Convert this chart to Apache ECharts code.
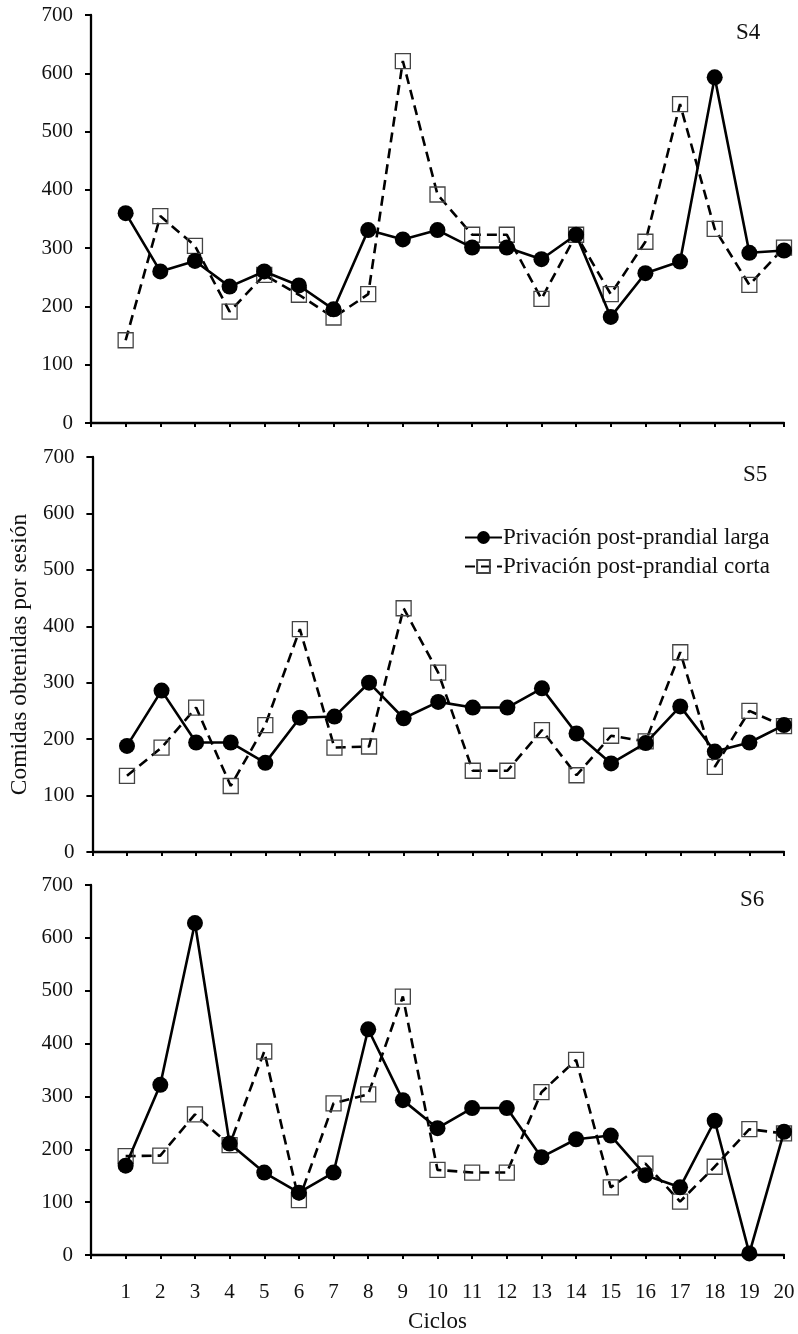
<!DOCTYPE html>
<html>
<head>
<meta charset="utf-8">
<script src="https://cdn.jsdelivr.net/npm/echarts@6/dist/echarts.min.js"></script>
<style>
html,body{margin:0;padding:0;background:#fff;}
#chart{width:798px;height:1334px;}
</style>
</head>
<body>
<div id="chart"></div>
<script>
const cycles = [1,2,3,4,5,6,7,8,9,10,11,12,13,14,15,16,17,18,19,20];
const yTicks = [0,100,200,300,400,500,600,700];
const panelLabels = ['S4','S5','S6'];
const seriesNames = ['Privación post-prandial larga','Privación post-prandial corta'];

const s4Larga = [360,260,278,234,260,236,195,331,315,331,301,301,281,323,182,257,277,593,292,296];
const s4Corta = [142,355,304,191,254,220,181,221,621,392,323,323,213,323,221,311,547,333,237,301];
const s5Larga = [188,286,194,194,158,238,240,300,237,266,256,256,290,210,157,193,258,178,194,225];
const s5Corta = [135,185,256,117,225,395,185,187,432,318,144,144,216,136,206,196,354,151,250,223];
const s6Larga = [169,322,628,211,156,118,156,427,293,240,278,278,185,219,226,151,128,254,3,233];
const s6Corta = [187,188,266,208,385,104,287,304,489,161,156,156,308,369,128,173,101,167,238,230];

const panels = [[s4Larga,s4Corta],[s5Larga,s5Corta],[s6Larga,s6Corta]];
const grids = [
  {left:91, right:14, top:15, height:408},
  {left:91, right:14, top:457, height:395},
  {left:91, right:14, top:885, height:370}
];
const FONT = 'Liberation Serif';
const pairs = arr => cycles.map((c,i)=>[c,arr[i]]);

const xAxes = [], yAxes = [], series = [], graphics = [];
grids.forEach((g,k)=>{
  const bottom = k===2;
  xAxes.push({
    type:'value', gridIndex:k, min:0, max:cycles.length, interval:1,
    axisLine:{show:true, onZero:false, lineStyle:{color:'#000', width:2.3}},
    axisTick:{show:true, length:4, lineStyle:{color:'#000', width:2}},
    splitLine:{show:false},
    axisLabel:{show:bottom, margin:27, color:'#111', fontFamily:FONT, fontSize:21,
      formatter:v=> (v>=1 && v<=cycles.length) ? String(cycles[v-1]) : ''},
    name: bottom ? 'Ciclos' : '', nameLocation:'middle', nameGap:55,
    nameTextStyle:{color:'#111', fontFamily:FONT, fontSize:23}
  });
  yAxes.push({
    type:'value', gridIndex:k, min:yTicks[0], max:yTicks[yTicks.length-1], interval:100,
    axisLine:{show:true, lineStyle:{color:'#000', width:2.3}},
    axisTick:{show:true, length:6, lineStyle:{color:'#000', width:2}},
    splitLine:{show:false},
    axisLabel:{margin:18, color:'#111', fontFamily:FONT, fontSize:21},
    name: k===1 ? 'Comidas obtenidas por sesión' : '', nameLocation:'middle', nameGap:58,
    nameTextStyle:{color:'#111', fontFamily:FONT, fontSize:23.5}
  });
  series.push({
    name:seriesNames[1], type:'line', xAxisIndex:k, yAxisIndex:k, data:pairs(panels[k][1]),
    symbol:'rect', symbolSize:15, z:2,
    lineStyle:{color:'#000', width:2.6, type:[10,6]},
    itemStyle:{color:'rgba(255,255,255,0)', borderColor:'#444', borderWidth:1.3},
    emphasis:{disabled:true}, animation:false
  });
  series.push({
    name:seriesNames[0], type:'line', xAxisIndex:k, yAxisIndex:k, data:pairs(panels[k][0]),
    symbol:'circle', symbolSize:16, z:3,
    lineStyle:{color:'#000', width:2.6},
    itemStyle:{color:'#000', borderWidth:0},
    emphasis:{disabled:true}, animation:false
  });
});
const labelPos = [{x:736,y:33},{x:743,y:475},{x:740,y:900}];
panelLabels.forEach((t,k)=>{
  graphics.push({type:'text', left:labelPos[k].x, top:labelPos[k].y-12,
    style:{text:t, fill:'#111', font:'23px "'+FONT+'"'}});
});

const chart = echarts.init(document.getElementById('chart'), null, {renderer:'canvas'});
chart.setOption({
  backgroundColor:'#fff',
  animation:false,
  grid:grids,
  xAxis:xAxes,
  yAxis:yAxes,
  series:series,
  graphic:graphics,
  legend:{
    data:seriesNames, orient:'vertical', left:459, top:521,
    itemWidth:37, itemHeight:16, itemGap:6,
    textStyle:{color:'#111', fontFamily:FONT, fontSize:23, padding:[0,0,0,-4]},
    selectedMode:false
  }
});
</script>
</body>
</html>
